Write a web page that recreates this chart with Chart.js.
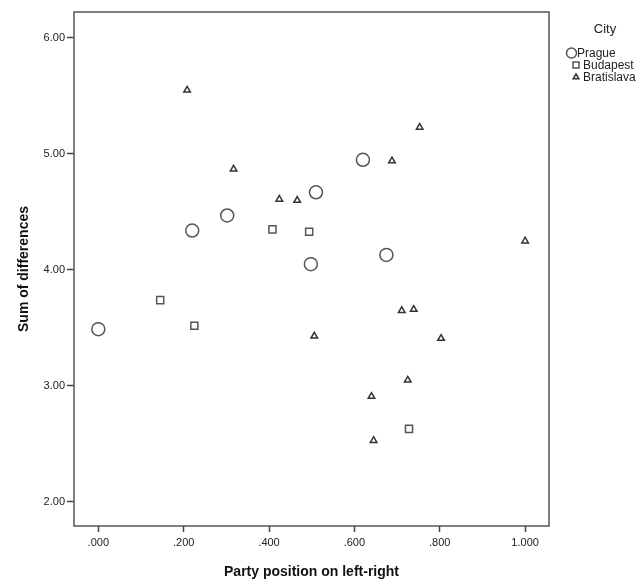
<!DOCTYPE html>
<html>
<head>
<meta charset="utf-8">
<script src="https://cdn.jsdelivr.net/npm/chart.js@4.4.1/dist/chart.umd.min.js"></script>
<style>
  html, body { margin: 0; padding: 0; background: #fff; }
  canvas { display: block; }
</style>
</head>
<body>
<canvas id="scatter" width="638" height="583"></canvas>
<script>
// data
const pragueX = [0.000, 0.220, 0.302, 0.498, 0.510, 0.620, 0.675];
const pragueY = [3.49, 4.34, 4.47, 4.05, 4.67, 4.95, 4.13];

const budapestX = [0.145, 0.225, 0.408, 0.494, 0.728];
const budapestY = [3.74, 3.52, 4.35, 4.33, 2.63];

const bratislavaX = [0.208, 0.317, 0.424, 0.466, 0.688, 0.753, 1.000, 0.711, 0.739, 0.506, 0.803, 0.725, 0.640, 0.645];
const bratislavaY = [5.55, 4.87, 4.61, 4.60, 4.94, 5.23, 4.25, 3.65, 3.66, 3.43, 3.41, 3.05, 2.91, 2.53];

const xTicks = [0, 0.2, 0.4, 0.6, 0.8, 1.0];
const yTicks = [2, 3, 4, 5, 6];

const cities = ['Prague', 'Budapest', 'Bratislava'];
const FONT = '"Liberation Sans", Arial, sans-serif';

function toPoints(xs, ys) {
    return xs.map((x, i) => ({ x: x, y: ys[i] }));
}

// plot frame + legend, drawn on the canvas
const framePlugin = {
    id: 'frame',
    beforeDatasetsDraw(chart) {
        const a = chart.chartArea;
        const ctx = chart.ctx;
        ctx.save();
        ctx.strokeStyle = '#555';
        ctx.lineWidth = 1.5;
        ctx.strokeRect(a.left, a.top, a.right - a.left, a.bottom - a.top);
        ctx.restore();
    },
    afterDraw(chart) {
        const ctx = chart.ctx;
        ctx.save();
        ctx.fillStyle = '#222';
        ctx.font = '13px ' + FONT;
        ctx.textAlign = 'center';
        ctx.textBaseline = 'middle';
        ctx.fillText('City', 605, 29);

        // marker x, text x, row y
        const rows = [
            { mx: 571.5, tx: 577, y: 53 },
            { mx: 576, tx: 583, y: 65 },
            { mx: 576, tx: 583, y: 77 }
        ];
        ctx.font = '12px ' + FONT;
        ctx.textAlign = 'left';
        chart.data.datasets.forEach((ds, i) => {
            const r = rows[i];
            const x = r.mx, y = r.y;
            ctx.strokeStyle = ds.borderColor;
            ctx.lineWidth = ds.borderWidth;
            ctx.beginPath();
            if (ds.pointStyle === 'circle') {
                ctx.arc(x, y, 5, 0, Math.PI * 2);
            } else if (ds.pointStyle === 'rect') {
                ctx.rect(x - 3, y - 3, 6, 6);
            } else {
                ctx.moveTo(x, y - 3);
                ctx.lineTo(x + 2.8, y + 1.8);
                ctx.lineTo(x - 2.8, y + 1.8);
                ctx.closePath();
            }
            ctx.stroke();
            ctx.fillStyle = '#222';
            ctx.fillText(ds.label, r.tx, y + 1);
        });
        ctx.restore();
    }
};

new Chart(document.getElementById('scatter'), {
    type: 'scatter',
    data: {
        datasets: [
            {
                label: cities[0],
                data: toPoints(pragueX, pragueY),
                pointStyle: 'circle',
                pointRadius: 6.5,
                pointHoverRadius: 6.5,
                backgroundColor: 'rgba(0,0,0,0)',
                borderColor: '#555',
                borderWidth: 1.5
            },
            {
                label: cities[1],
                data: toPoints(budapestX, budapestY),
                pointStyle: 'rect',
                pointRadius: 5,
                pointHoverRadius: 5,
                backgroundColor: 'rgba(0,0,0,0)',
                borderColor: '#555',
                borderWidth: 1.5
            },
            {
                label: cities[2],
                data: toPoints(bratislavaX, bratislavaY),
                pointStyle: 'triangle',
                pointRadius: 3.8,
                pointHoverRadius: 3.8,
                backgroundColor: 'rgba(0,0,0,0)',
                borderColor: '#333',
                borderWidth: 1.5
            }
        ]
    },
    options: {
        responsive: false,
        animation: false,
        events: [],
        layout: { padding: { top: 12, right: 89, left: 0, bottom: 0 } },
        plugins: {
            legend: { display: false },
            tooltip: { enabled: false }
        },
        scales: {
            x: {
                type: 'linear',
                min: -0.057,
                max: 1.056,
                afterBuildTicks: s => { s.ticks = xTicks.map(v => ({ value: v })); },
                afterFit: s => { s.height = 57; },
                border: { display: false },
                grid: { drawOnChartArea: false, drawTicks: true, tickLength: 6, tickColor: '#444', tickWidth: 1.5 },
                ticks: {
                    color: '#222',
                    padding: 4,
                    maxRotation: 0,
                    font: { family: FONT, size: 11 },
                    callback: v => v.toFixed(3).replace(/^0\./, '.')
                },
                title: {
                    display: true,
                    text: 'Party position on left-right',
                    color: '#111',
                    font: { family: FONT, size: 14, weight: 'bold' },
                    padding: { top: 0, bottom: 2 }
                }
            },
            y: {
                type: 'linear',
                min: 1.793,
                max: 6.224,
                afterBuildTicks: s => { s.ticks = yTicks.map(v => ({ value: v })); },
                afterFit: s => { s.width = 74; },
                border: { display: false },
                grid: { drawOnChartArea: false, drawTicks: true, tickLength: 7, tickColor: '#444', tickWidth: 1.5 },
                ticks: {
                    color: '#222',
                    padding: 2,
                    font: { family: FONT, size: 11 },
                    callback: v => v.toFixed(2)
                },
                title: {
                    display: true,
                    text: 'Sum of differences',
                    color: '#111',
                    font: { family: FONT, size: 14, weight: 'bold' },
                    padding: { top: 16, bottom: 0 }
                }
            }
        }
    },
    plugins: [framePlugin]
});
</script>
</body>
</html>
